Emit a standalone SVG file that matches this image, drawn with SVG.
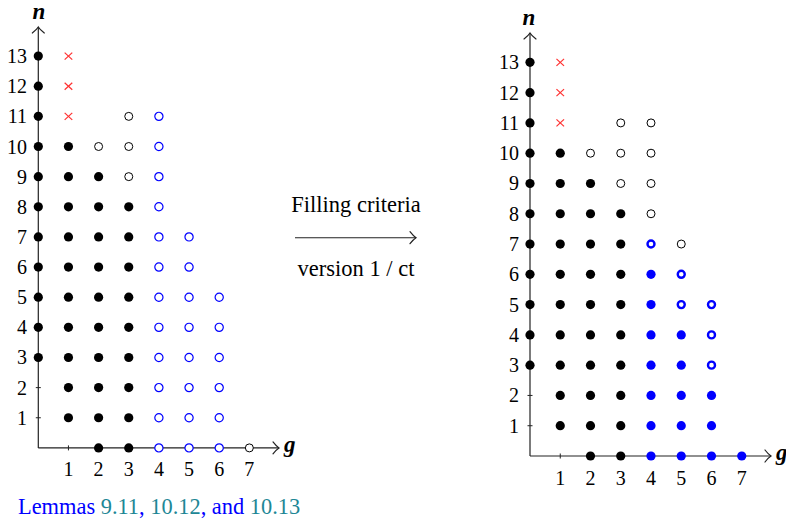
<svg xmlns="http://www.w3.org/2000/svg" xmlns:xlink="http://www.w3.org/1999/xlink" width="786" height="519" viewBox="0 0 786 519">
<style>
  text { font-family: "Liberation Serif", "Times New Roman", serif; fill: #000; }
  .tick { font-size: 20px; }
  .yl { text-anchor: end; }
  .xl { text-anchor: middle; }
  .var { font-size: 23px; font-style: italic; font-weight: bold; }
  .mid { font-size: 22.5px; text-anchor: middle; }
  .cap { font-size: 22.4px; }
  .axis { stroke: #222; stroke-width: 1.2; fill: none; }
  .head { stroke: #222; stroke-width: 1.2; fill: none; stroke-linecap: round; }
  .tk { stroke: #222; stroke-width: 1; }
  .fb { fill: #000; }
  .fu { fill: #0000ff; }
  .ob { fill: #fff; stroke: #000; stroke-width: 1; }
  .ou { fill: #fff; stroke: #0000ff; stroke-width: 1.2; }
  .tu { fill: #fff; stroke: #0000ff; stroke-width: 2.4; }
  .cr { stroke: #ff3030; stroke-width: 1.2; }
  .blue { fill: #0000ff; }
  .teal { fill: #1e8796; }
</style>
<defs>
  <circle id="fb" r="4.6" class="fb"/>
  <circle id="fu" r="4.6" class="fu"/>
  <circle id="ob" r="4" class="ob"/>
  <circle id="ou" r="4.1" class="ou"/>
  <circle id="tu" r="3.5" class="tu"/>
  <g id="cr" class="cr"><line x1="-3.8" y1="-3.5" x2="3.8" y2="3.5"/><line x1="-3.8" y1="3.5" x2="3.8" y2="-3.5"/></g>
  <path id="headup" d="M-6,6 Q-1.5,2.5 0,0 Q1.5,2.5 6,6" class="head"/>
  <path id="headright" d="M-6,-6 Q-2.5,-1.5 0,0 Q-2.5,1.5 -6,6" class="head"/>
</defs>

<!-- LEFT PLOT -->
<g id="left-plot">
  <g id="left-axes">
    <line class="axis" x1="38.3" y1="447.9" x2="38.3" y2="27"/>
    <line class="axis" x1="38.3" y1="447.9" x2="279" y2="447.9"/>
    <use xlink:href="#headup" x="38.3" y="27"/>
    <use xlink:href="#headright" x="279" y="447.9"/>
    <line class="tk" x1="68.45" y1="445.4" x2="68.45" y2="450.4"/>
    <line class="tk" x1="35.8" y1="417.76" x2="40.8" y2="417.76"/>
    <line class="tk" x1="35.8" y1="387.62" x2="40.8" y2="387.62"/>
    <text class="var" x="39" y="19" text-anchor="middle">n</text>
    <text class="var" x="284" y="452">g</text>
  </g>
  <g id="left-labels" class="tick">
    <text class="xl" x="68.45" y="476">1</text>
    <text class="xl" x="98.6" y="476">2</text>
    <text class="xl" x="128.75" y="476">3</text>
    <text class="xl" x="158.9" y="476">4</text>
    <text class="xl" x="189.05" y="476">5</text>
    <text class="xl" x="219.2" y="476">6</text>
    <text class="xl" x="249.35" y="476">7</text>
    <text class="yl" x="27" y="424.76">1</text>
    <text class="yl" x="27" y="394.62">2</text>
    <text class="yl" x="27" y="364.48">3</text>
    <text class="yl" x="27" y="334.34">4</text>
    <text class="yl" x="27" y="304.2">5</text>
    <text class="yl" x="27" y="274.06">6</text>
    <text class="yl" x="27" y="243.92">7</text>
    <text class="yl" x="27" y="213.78">8</text>
    <text class="yl" x="27" y="183.64">9</text>
    <text class="yl" x="27" y="153.5">10</text>
    <text class="yl" x="27" y="123.36">11</text>
    <text class="yl" x="27" y="93.22">12</text>
    <text class="yl" x="27" y="63.08">13</text>
  </g>
  <g id="left-points">
    <!-- column 0 -->
    <use xlink:href="#fb" x="38.3" y="357.48"/>
    <use xlink:href="#fb" x="38.3" y="327.34"/>
    <use xlink:href="#fb" x="38.3" y="297.2"/>
    <use xlink:href="#fb" x="38.3" y="267.06"/>
    <use xlink:href="#fb" x="38.3" y="236.92"/>
    <use xlink:href="#fb" x="38.3" y="206.78"/>
    <use xlink:href="#fb" x="38.3" y="176.64"/>
    <use xlink:href="#fb" x="38.3" y="146.5"/>
    <use xlink:href="#fb" x="38.3" y="116.36"/>
    <use xlink:href="#fb" x="38.3" y="86.22"/>
    <use xlink:href="#fb" x="38.3" y="56.08"/>
    <!-- column 1 -->
    <use xlink:href="#fb" x="68.45" y="417.76"/>
    <use xlink:href="#fb" x="68.45" y="387.62"/>
    <use xlink:href="#fb" x="68.45" y="357.48"/>
    <use xlink:href="#fb" x="68.45" y="327.34"/>
    <use xlink:href="#fb" x="68.45" y="297.2"/>
    <use xlink:href="#fb" x="68.45" y="267.06"/>
    <use xlink:href="#fb" x="68.45" y="236.92"/>
    <use xlink:href="#fb" x="68.45" y="206.78"/>
    <use xlink:href="#fb" x="68.45" y="176.64"/>
    <use xlink:href="#fb" x="68.45" y="146.5"/>
    <use xlink:href="#cr" x="68.45" y="116.36"/>
    <use xlink:href="#cr" x="68.45" y="86.22"/>
    <use xlink:href="#cr" x="68.45" y="56.08"/>
    <!-- column 2 -->
    <use xlink:href="#fb" x="98.6" y="447.9"/>
    <use xlink:href="#fb" x="98.6" y="417.76"/>
    <use xlink:href="#fb" x="98.6" y="387.62"/>
    <use xlink:href="#fb" x="98.6" y="357.48"/>
    <use xlink:href="#fb" x="98.6" y="327.34"/>
    <use xlink:href="#fb" x="98.6" y="297.2"/>
    <use xlink:href="#fb" x="98.6" y="267.06"/>
    <use xlink:href="#fb" x="98.6" y="236.92"/>
    <use xlink:href="#fb" x="98.6" y="206.78"/>
    <use xlink:href="#fb" x="98.6" y="176.64"/>
    <use xlink:href="#ob" x="98.6" y="146.5"/>
    <!-- column 3 -->
    <use xlink:href="#fb" x="128.75" y="447.9"/>
    <use xlink:href="#fb" x="128.75" y="417.76"/>
    <use xlink:href="#fb" x="128.75" y="387.62"/>
    <use xlink:href="#fb" x="128.75" y="357.48"/>
    <use xlink:href="#fb" x="128.75" y="327.34"/>
    <use xlink:href="#fb" x="128.75" y="297.2"/>
    <use xlink:href="#fb" x="128.75" y="267.06"/>
    <use xlink:href="#fb" x="128.75" y="236.92"/>
    <use xlink:href="#fb" x="128.75" y="206.78"/>
    <use xlink:href="#ob" x="128.75" y="176.64"/>
    <use xlink:href="#ob" x="128.75" y="146.5"/>
    <use xlink:href="#ob" x="128.75" y="116.36"/>
    <!-- column 4 -->
    <use xlink:href="#ou" x="158.9" y="447.9"/>
    <use xlink:href="#ou" x="158.9" y="417.76"/>
    <use xlink:href="#ou" x="158.9" y="387.62"/>
    <use xlink:href="#ou" x="158.9" y="357.48"/>
    <use xlink:href="#ou" x="158.9" y="327.34"/>
    <use xlink:href="#ou" x="158.9" y="297.2"/>
    <use xlink:href="#ou" x="158.9" y="267.06"/>
    <use xlink:href="#ou" x="158.9" y="236.92"/>
    <use xlink:href="#ou" x="158.9" y="206.78"/>
    <use xlink:href="#ou" x="158.9" y="176.64"/>
    <use xlink:href="#ou" x="158.9" y="146.5"/>
    <use xlink:href="#ou" x="158.9" y="116.36"/>
    <!-- column 5 -->
    <use xlink:href="#ou" x="189.05" y="447.9"/>
    <use xlink:href="#ou" x="189.05" y="417.76"/>
    <use xlink:href="#ou" x="189.05" y="387.62"/>
    <use xlink:href="#ou" x="189.05" y="357.48"/>
    <use xlink:href="#ou" x="189.05" y="327.34"/>
    <use xlink:href="#ou" x="189.05" y="297.2"/>
    <use xlink:href="#ou" x="189.05" y="267.06"/>
    <use xlink:href="#ou" x="189.05" y="236.92"/>
    <!-- column 6 -->
    <use xlink:href="#ou" x="219.2" y="447.9"/>
    <use xlink:href="#ou" x="219.2" y="417.76"/>
    <use xlink:href="#ou" x="219.2" y="387.62"/>
    <use xlink:href="#ou" x="219.2" y="357.48"/>
    <use xlink:href="#ou" x="219.2" y="327.34"/>
    <use xlink:href="#ou" x="219.2" y="297.2"/>
    <!-- column 7 -->
    <use xlink:href="#ob" x="249.35" y="447.9"/>
  </g>
  <g id="left-caption" class="cap">
    <text x="18" y="514"><tspan class="blue">Lemmas </tspan><tspan class="teal">9.11</tspan><tspan class="blue">, </tspan><tspan class="teal">10.12</tspan><tspan class="blue">, and </tspan><tspan class="teal">10.13</tspan></text>
  </g>
</g>

<!-- MIDDLE TRANSITION -->
<g id="transition">
  <text class="mid" x="356" y="212">Filling criteria</text>
  <line x1="295" y1="237.7" x2="416" y2="237.7" stroke="#222" stroke-width="1.1"/>
  <use xlink:href="#headright" x="416" y="237.7"/>
  <text class="mid" x="356" y="276">version 1 / ct</text>
</g>

<!-- RIGHT PLOT -->
<g id="right-plot">
  <g id="right-axes">
    <line class="axis" x1="530" y1="456" x2="530" y2="33"/>
    <line class="axis" x1="530" y1="456" x2="771" y2="456"/>
    <use xlink:href="#headup" x="530" y="33"/>
    <use xlink:href="#headright" x="771" y="456"/>
    <line class="tk" x1="560.25" y1="453.5" x2="560.25" y2="458.5"/>
    <line class="tk" x1="527.5" y1="425.72" x2="532.5" y2="425.72"/>
    <line class="tk" x1="527.5" y1="395.44" x2="532.5" y2="395.44"/>
    <text class="var" x="529" y="25" text-anchor="middle">n</text>
    <text class="var" x="776" y="460">g</text>
  </g>
  <g id="right-labels" class="tick">
    <text class="xl" x="560.25" y="485">1</text>
    <text class="xl" x="590.5" y="485">2</text>
    <text class="xl" x="620.75" y="485">3</text>
    <text class="xl" x="651" y="485">4</text>
    <text class="xl" x="681.25" y="485">5</text>
    <text class="xl" x="711.5" y="485">6</text>
    <text class="xl" x="741.75" y="485">7</text>
    <text class="yl" x="519" y="432.72">1</text>
    <text class="yl" x="519" y="402.44">2</text>
    <text class="yl" x="519" y="372.16">3</text>
    <text class="yl" x="519" y="341.88">4</text>
    <text class="yl" x="519" y="311.6">5</text>
    <text class="yl" x="519" y="281.32">6</text>
    <text class="yl" x="519" y="251.04">7</text>
    <text class="yl" x="519" y="220.76">8</text>
    <text class="yl" x="519" y="190.48">9</text>
    <text class="yl" x="519" y="160.2">10</text>
    <text class="yl" x="519" y="129.92">11</text>
    <text class="yl" x="519" y="99.64">12</text>
    <text class="yl" x="519" y="69.36">13</text>
  </g>
  <g id="right-points">
    <!-- column 0 -->
    <use xlink:href="#fb" x="530" y="365.16"/>
    <use xlink:href="#fb" x="530" y="334.88"/>
    <use xlink:href="#fb" x="530" y="304.6"/>
    <use xlink:href="#fb" x="530" y="274.32"/>
    <use xlink:href="#fb" x="530" y="244.04"/>
    <use xlink:href="#fb" x="530" y="213.76"/>
    <use xlink:href="#fb" x="530" y="183.48"/>
    <use xlink:href="#fb" x="530" y="153.2"/>
    <use xlink:href="#fb" x="530" y="122.92"/>
    <use xlink:href="#fb" x="530" y="92.64"/>
    <use xlink:href="#fb" x="530" y="62.36"/>
    <!-- column 1 -->
    <use xlink:href="#fb" x="560.25" y="425.72"/>
    <use xlink:href="#fb" x="560.25" y="395.44"/>
    <use xlink:href="#fb" x="560.25" y="365.16"/>
    <use xlink:href="#fb" x="560.25" y="334.88"/>
    <use xlink:href="#fb" x="560.25" y="304.6"/>
    <use xlink:href="#fb" x="560.25" y="274.32"/>
    <use xlink:href="#fb" x="560.25" y="244.04"/>
    <use xlink:href="#fb" x="560.25" y="213.76"/>
    <use xlink:href="#fb" x="560.25" y="183.48"/>
    <use xlink:href="#fb" x="560.25" y="153.2"/>
    <use xlink:href="#cr" x="560.25" y="122.92"/>
    <use xlink:href="#cr" x="560.25" y="92.64"/>
    <use xlink:href="#cr" x="560.25" y="62.36"/>
    <!-- column 2 -->
    <use xlink:href="#fb" x="590.5" y="456"/>
    <use xlink:href="#fb" x="590.5" y="425.72"/>
    <use xlink:href="#fb" x="590.5" y="395.44"/>
    <use xlink:href="#fb" x="590.5" y="365.16"/>
    <use xlink:href="#fb" x="590.5" y="334.88"/>
    <use xlink:href="#fb" x="590.5" y="304.6"/>
    <use xlink:href="#fb" x="590.5" y="274.32"/>
    <use xlink:href="#fb" x="590.5" y="244.04"/>
    <use xlink:href="#fb" x="590.5" y="213.76"/>
    <use xlink:href="#fb" x="590.5" y="183.48"/>
    <use xlink:href="#ob" x="590.5" y="153.2"/>
    <!-- column 3 -->
    <use xlink:href="#fb" x="620.75" y="456"/>
    <use xlink:href="#fb" x="620.75" y="425.72"/>
    <use xlink:href="#fb" x="620.75" y="395.44"/>
    <use xlink:href="#fb" x="620.75" y="365.16"/>
    <use xlink:href="#fb" x="620.75" y="334.88"/>
    <use xlink:href="#fb" x="620.75" y="304.6"/>
    <use xlink:href="#fb" x="620.75" y="274.32"/>
    <use xlink:href="#fb" x="620.75" y="244.04"/>
    <use xlink:href="#fb" x="620.75" y="213.76"/>
    <use xlink:href="#ob" x="620.75" y="183.48"/>
    <use xlink:href="#ob" x="620.75" y="153.2"/>
    <use xlink:href="#ob" x="620.75" y="122.92"/>
    <!-- column 4 -->
    <use xlink:href="#fu" x="651" y="456"/>
    <use xlink:href="#fu" x="651" y="425.72"/>
    <use xlink:href="#fu" x="651" y="395.44"/>
    <use xlink:href="#fu" x="651" y="365.16"/>
    <use xlink:href="#fu" x="651" y="334.88"/>
    <use xlink:href="#fu" x="651" y="304.6"/>
    <use xlink:href="#fu" x="651" y="274.32"/>
    <use xlink:href="#tu" x="651" y="244.04"/>
    <use xlink:href="#ob" x="651" y="213.76"/>
    <use xlink:href="#ob" x="651" y="183.48"/>
    <use xlink:href="#ob" x="651" y="153.2"/>
    <use xlink:href="#ob" x="651" y="122.92"/>
    <!-- column 5 -->
    <use xlink:href="#fu" x="681.25" y="456"/>
    <use xlink:href="#fu" x="681.25" y="425.72"/>
    <use xlink:href="#fu" x="681.25" y="395.44"/>
    <use xlink:href="#fu" x="681.25" y="365.16"/>
    <use xlink:href="#fu" x="681.25" y="334.88"/>
    <use xlink:href="#tu" x="681.25" y="304.6"/>
    <use xlink:href="#tu" x="681.25" y="274.32"/>
    <use xlink:href="#ob" x="681.25" y="244.04"/>
    <!-- column 6 -->
    <use xlink:href="#fu" x="711.5" y="456"/>
    <use xlink:href="#fu" x="711.5" y="425.72"/>
    <use xlink:href="#fu" x="711.5" y="395.44"/>
    <use xlink:href="#tu" x="711.5" y="365.16"/>
    <use xlink:href="#tu" x="711.5" y="334.88"/>
    <use xlink:href="#tu" x="711.5" y="304.6"/>
    <!-- column 7 -->
    <use xlink:href="#fu" x="741.75" y="456"/>
  </g>
</g>
</svg>
